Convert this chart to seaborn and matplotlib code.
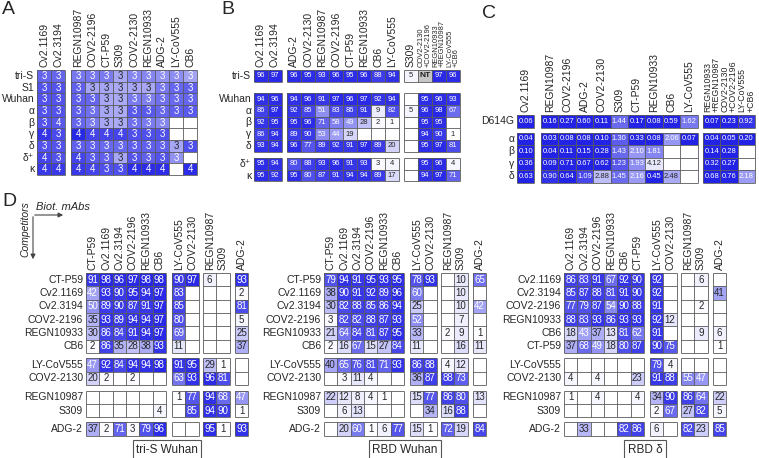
import numpy as np
import pandas as pd
import matplotlib
matplotlib.use("Agg")
import matplotlib.pyplot as plt
import seaborn as sns
from matplotlib.colors import LinearSegmentedColormap, LogNorm

sns.set_style("white")
plt.rcParams["font.family"] = ["Liberation Sans", "DejaVu Sans"]

N = np.nan

# ---------------- panel A ----------------
a_rows = ["tri-S", "S1", "Wuhan", "α", "β", "γ", "δ", "δ⁺", "κ"]
a_cols = [["Cv2.1169", "Cv2.3194"],
          ["REGN10987", "COV2-2196", "CT-P59", "S309", "COV2-2130",
           "REGN10933", "ADG-2", "LY-CoV555", "CB6"]]
a_vals = [
    [3, 3, 3, 3, 3, 3, 3, 3, 3, 3, 3],
    [3, 3, 3, 3, 3, 3, 3, 3, 3, 3, 3],
    [3, 3, 3, 3, 3, 3, 3, 3, 3, 3, 3],
    [3, 3, 3, 3, 3, 3, 3, 3, 3, 3, 3],
    [3, 4, 3, 3, 3, 3, 3, 3, 3, N, N],
    [4, 3, 4, 4, 4, 4, 3, 3, 3, N, N],
    [3, 3, 3, 3, 3, 3, 3, 3, 3, 3, 3],
    [4, 3, 4, 3, 3, 3, 3, 3, 3, 3, N],
    [4, 4, 4, 4, 3, 3, 4, 4, 4, N, 4],
]
# shading of each cell (0-100)
a_shade = [
    [70, 70, 62, 62, 60, 40, 55, 55, 50, 52, 42],
    [78, 78, 72, 40, 40, 38, 40, 40, 62, 70, 72],
    [78, 78, 72, 70, 40, 38, 60, 58, 65, 68, 70],
    [78, 78, 72, 65, 40, 38, 75, 75, 70, 72, 75],
    [78, 75, 70, 60, 40, 38, 65, 60, 55, N, N],
    [92, 82, 98, 85, 85, 85, 80, 80, 80, N, N],
    [78, 78, 72, 72, 68, 68, 72, 72, 72, 40, 80],
    [85, 78, 85, 75, 72, 40, 78, 72, 78, 50, N],
    [90, 90, 90, 85, 80, 80, 95, 95, 95, N, 95],
]

# ---------------- panel B ----------------
b_rows = [["tri-S"], ["Wuhan", "α", "β", "γ", "δ"], ["δ⁺", "κ"]]
b_cols = [["Cv2.1169", "Cv2.3194"],
          ["ADG-2", "COV2-2130", "REGN10987", "COV2-2196", "CT-P59",
           "REGN10933", "CB6", "LY-CoV555"],
          ["S309", "COV2-2130\n+COV2-2196", "REGN10933\n+REGN10987",
           "LY-CoV555\n+CB6"]]
b_vals = [
    [96, 97, 96, 95, 93, 96, 95, 96, 88, 94, 5, N, 97, 96],
    [94, 96, 94, 96, 91, 97, 96, 97, 92, 94, N, 95, 96, 93],
    [86, 97, 92, 85, 51, 83, 86, 91, 9, 82, 5, 96, 98, 67],
    [92, 95, 95, 96, 71, 58, 49, 28, 2, 1, N, 95, 95, N],
    [86, 94, 89, 90, 53, 44, 19, N, N, N, N, 94, 90, 1],
    [93, 94, 96, 77, 89, 92, 91, 97, 89, 20, N, 95, 97, 81],
    [95, 94, 80, 88, 93, 96, 91, 93, 3, 4, N, 95, 96, 4],
    [95, 92, 95, 80, 87, 91, 94, 94, 89, 17, N, 94, 97, 71],
]
b_not_tested = [("tri-S", "COV2-2130\n+COV2-2196")]

# ---------------- panel C ----------------
c_rows = [["D614G"], ["α", "β", "γ", "δ"]]
c_cols = [["Cv2.1169"],
          ["REGN10987", "COV2-2196", "ADG-2", "COV2-2130", "S309", "CT-P59",
           "REGN10933", "CB6", "LY-CoV555"],
          ["REGN10933\n+REGN10987", "COV2-2130\n+COV2-2196", "LY-CoV555\n+CB6"]]
c_vals = [
    [0.06, 0.16, 0.27, 0.60, 0.11, 1.44, 0.17, 0.08, 0.59, 1.62, 0.07, 0.23, 0.92],
    [0.04, 0.03, 0.08, 0.08, 0.10, 1.30, 0.33, 0.08, 2.06, 0.07, 0.04, 0.05, 0.20],
    [0.10, 0.04, 0.11, 0.15, 0.28, 1.43, 2.10, 1.81, N, N, 0.14, 0.28, N],
    [0.36, 0.09, 0.71, 0.67, 0.62, 1.23, 1.93, 4.12, N, N, 0.32, 0.27, N],
    [0.63, 0.90, 0.64, 1.09, 2.88, 1.45, 2.16, 0.45, 2.48, N, 0.68, 0.76, 2.18],
]

# ---------------- panel D ----------------
d_group_sizes = [6, 2, 2, 1]
d_titles = ["tri-S Wuhan", "RBD Wuhan", "RBD δ"]
d_order_wuhan = ["CT-P59", "Cv2.1169", "Cv2.3194", "COV2-2196", "REGN10933", "CB6",
                 "LY-CoV555", "COV2-2130", "REGN10987", "S309", "ADG-2"]
d_order_delta = ["Cv2.1169", "Cv2.3194", "COV2-2196", "REGN10933", "CB6", "CT-P59",
                 "LY-CoV555", "COV2-2130", "REGN10987", "S309", "ADG-2"]
d_tri_s = [
    [91, 98, 96, 97, 98, 98, 90, 97, 6, N, 93],
    [42, 93, 90, 95, 94, 97, 83, N, N, N, 2],
    [50, 89, 90, 87, 91, 97, 85, N, N, N, 81],
    [35, 93, 89, 94, 94, 97, 80, N, N, N, 5],
    [30, 86, 84, 91, 94, 97, 69, N, N, N, 25],
    [2, 86, 35, 28, 38, 93, 11, N, N, N, 37],
    [47, 92, 84, 94, 94, 98, 91, 95, 29, 1, N],
    [20, 2, N, 2, N, N, 63, 93, 96, 81, N],
    [N, N, N, N, N, N, 1, 77, 94, 68, 47],
    [N, N, N, N, N, 4, N, 85, 94, 90, 1],
    [37, 2, 71, 3, 79, 96, N, N, 95, 1, 93],
]
d_rbd_wuhan = [
    [79, 94, 91, 95, 93, 95, 78, 93, N, 10, 65],
    [38, 90, 91, 92, 89, 96, 60, N, N, 10, N],
    [30, 82, 88, 85, 86, 94, 25, N, N, 10, 42],
    [3, 82, 82, 88, 87, 93, 52, N, N, 7, N],
    [21, 64, 84, 81, 87, 95, 33, N, 2, 9, 1],
    [2, 16, 67, 15, 27, 84, 11, N, N, 16, 11],
    [40, 65, 76, 81, 71, 93, 86, 88, 4, 12, N],
    [N, 3, 11, 4, N, N, 36, 87, 88, 73, N],
    [22, 12, 8, 4, 1, N, 15, 77, 86, 80, 13],
    [N, 6, 13, N, N, N, N, 34, 16, 88, N],
    [N, 20, 60, 1, 6, 77, 15, 1, 72, 19, 84],
]
d_rbd_delta = [
    [86, 83, 91, 67, 92, 90, 92, N, N, 6, N],
    [85, 87, 88, 81, 91, 90, 92, N, N, N, 41],
    [77, 79, 87, 54, 90, 88, 91, N, N, 2, N],
    [88, 83, 93, 86, 93, 93, 92, 12, N, N, N],
    [18, 43, 37, 13, 81, 62, 91, N, N, 9, 6],
    [37, 68, 49, 18, 80, 87, 90, 75, N, N, 1],
    [N, N, N, N, N, N, 79, 4, N, N, N],
    [4, N, 4, N, N, 23, 91, 88, 55, 47, N],
    [1, N, 4, N, N, 4, 34, 90, 86, 64, 22],
    [N, N, N, N, N, N, 2, 67, 27, 82, 5],
    [N, 33, N, N, 82, 86, 6, N, 82, 23, 85],
]

# ---------------- drawing ----------------
W, H = 759, 458
GRID = "#5a5a5a"
LAB = 7.5
fig = plt.figure(figsize=(W / 100, H / 100), dpi=100)

blue = LinearSegmentedColormap.from_list("wb", ["#ffffff", "#2323e6"])
blue.set_bad("white")
blue_nt = blue.copy()
blue_nt.set_bad("#c6c6c6")
blue_r = blue.reversed()
blue_r.set_bad("white")


def block(x, y, cw, ch, vals, rows, cols, cmap, fs, fmt=".0f", annot=None,
          show_rows=True, show_cols=True, norm=None, small_fs=5.6):
    nr, nc = len(rows), len(cols)
    ax = fig.add_axes([x / W, 1 - (y + nr * ch) / H, nc * cw / W, nr * ch / H])
    df = pd.DataFrame(np.array(vals, dtype=float), index=rows, columns=cols)
    extra = {"norm": norm} if norm is not None else {"vmin": 0, "vmax": 100}
    sns.heatmap(df, ax=ax, cmap=cmap, cbar=False,
                annot=True if annot is None else np.array(annot, dtype=float),
                fmt=fmt, annot_kws={"fontsize": fs},
                xticklabels=show_cols, yticklabels=show_rows, **extra)
    ax.hlines(np.arange(nr + 1), 0, nc, color=GRID, lw=0.6, clip_on=False)
    ax.vlines(np.arange(nc + 1), 0, nr, color=GRID, lw=0.6, clip_on=False)
    ax.tick_params(axis="both", length=0, pad=2, labelsize=LAB)
    ax.tick_params(axis="x", bottom=False, labelbottom=False, top=False,
                   labeltop=show_cols, labelrotation=90)
    ax.tick_params(axis="y", labelrotation=0)
    for t in ax.get_xticklabels():
        if "\n" in t.get_text():
            # two-line combination labels are set smaller
            t.set_fontsize(small_fs)
            t.set_multialignment("left")
            t.set_linespacing(0.95)
    return ax


def split(mat, r0, r1, c0, c1):
    return [row[c0:c1] for row in mat[r0:r1]]


# panel A
a_x = [37, 71]
a_cw, a_ch = 14, 11.67
c0 = 0
for gi, cols in enumerate(a_cols):
    c1 = c0 + len(cols)
    block(a_x[gi], 70, a_cw, a_ch, split(a_shade, 0, 9, c0, c1), a_rows, cols,
          blue, 7, annot=split(a_vals, 0, 9, c0, c1), show_rows=(gi == 0))
    c0 = c1

# panel B
b_x = [254, 287, 404]
b_y = [70, 93.3, 158]
r0 = 0
for ri, rows in enumerate(b_rows):
    r1 = r0 + len(rows)
    c0 = 0
    for gi, cols in enumerate(b_cols):
        c1 = c0 + len(cols)
        nt_here = [(r, c) for r, c in b_not_tested if r in rows and c in cols]
        ax = block(b_x[gi], b_y[ri], 14, 11.67, split(b_vals, r0, r1, c0, c1), rows, cols,
                   blue_nt if nt_here else blue, 5.5, show_rows=(gi == 0),
                   show_cols=(ri == 0), small_fs=5.4)
        for r, c in nt_here:
            ax.text(cols.index(c) + 0.5, rows.index(r) + 0.5, "NT", ha="center",
                    va="center", fontsize=6, fontweight="bold", color="#222222")
        c0 = c1
    r0 = r1

# panel C
c_x = [517, 541, 703]
c_y = [115, 132.5]
c_norm = LogNorm(vmin=0.8, vmax=5.0)
r0 = 0
for ri, rows in enumerate(c_rows):
    r1 = r0 + len(rows)
    c0 = 0
    for gi, cols in enumerate(c_cols):
        c1 = c0 + len(cols)
        block(c_x[gi], c_y[ri], 17.4, 12.5, split(c_vals, r0, r1, c0, c1), rows, cols,
              blue_r, 5.5, fmt=".2f", show_rows=(gi == 0), show_cols=(ri == 0),
              norm=c_norm, small_fs=6.3)
        c0 = c1
    r0 = r1

# panel D
d_x0 = [86, 324, 564]
d_coff = [0, 86, 117, 149]
d_y = [273, 358.3, 390.5, 422.3]
d_cw = d_ch = 13.35
for pi, (mat, order) in enumerate(zip([d_tri_s, d_rbd_wuhan, d_rbd_delta],
                                      [d_order_wuhan, d_order_wuhan, d_order_delta])):
    r0 = 0
    for ri, nr in enumerate(d_group_sizes):
        c0 = 0
        for gi, nc in enumerate(d_group_sizes):
            block(d_x0[pi] + d_coff[gi], d_y[ri], d_cw, d_ch,
                  split(mat, r0, r0 + nr, c0, c0 + nc), order[r0:r0 + nr],
                  order[c0:c0 + nc], blue, 7, show_rows=(gi == 0),
                  show_cols=(ri == 0))
            c0 += nc
        r0 += nr

# overlay for letters, arrows and titles (pixel coordinates)
ov = fig.add_axes([0, 0, 1, 1])
ov.set_xlim(0, W)
ov.set_ylim(H, 0)
ov.axis("off")
for letter, (lx, ly) in zip("ABCD", [(2, 10), (221, 10), (482, 13), (2, 201)]):
    ov.text(lx, ly, letter, fontsize=14, ha="left", va="center")
for pi, title in enumerate(d_titles):
    ov.text(d_x0[pi] + 81, 450, title, fontsize=8.5, ha="center", va="center",
            bbox=dict(boxstyle="square,pad=0.3", fc="white", ec="#555555", lw=0.8))
ov.text(36, 207, "Biot. mAbs", fontsize=8, style="italic", ha="left", va="center")
ov.text(25, 229, "Competitors", fontsize=7.5, style="italic", rotation=90,
        ha="center", va="center")
ov.annotate("", xy=(66, 215), xytext=(32, 215),
            arrowprops=dict(arrowstyle="-|>", color="#444444", lw=0.8, mutation_scale=7))
ov.annotate("", xy=(33, 262), xytext=(33, 214),
            arrowprops=dict(arrowstyle="-|>", color="#444444", lw=0.8, mutation_scale=7))

fig.savefig("out.png", dpi=100)
